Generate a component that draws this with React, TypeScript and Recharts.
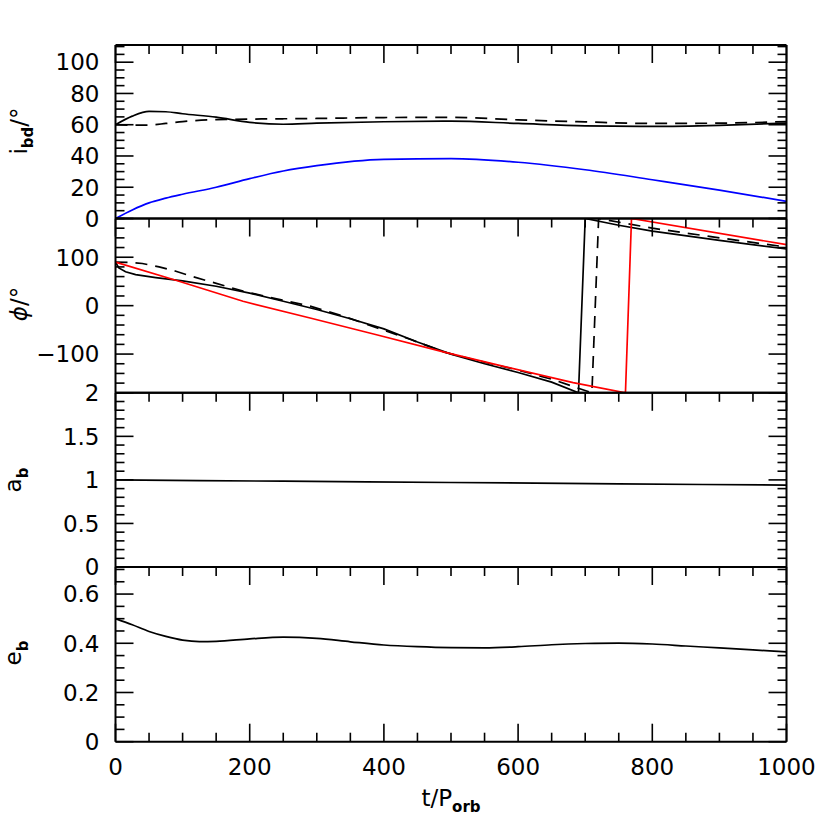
import React from 'react';
import { LineChart, Line, XAxis, YAxis } from 'recharts';

const FONT = '"DejaVu Sans", sans-serif';
const PLOT_LEFT = 115.5;
const PLOT_RIGHT = 786.5;
const SIZE = 830;

const range = (a: number, b: number, step: number) => {
  const n = Math.round((b - a) / step);
  return Array.from({ length: n + 1 }, (_, i) => +(a + i * step).toFixed(4));
};

// time axis (t / P_orb)
const timeMinor = range(0, 1000, 50);
const timeMajor = [0, 200, 400, 600, 800, 1000];

// panel 1: i_bd
const incT = [0, 25, 50, 75, 100, 150, 200, 250, 300, 400, 500, 600, 700, 800, 900, 1000];
const incSolid = [60, 65.5, 68.5, 68.3, 67, 64.8, 61.5, 60.3, 61, 61.9, 62.3, 60.8, 59.3, 58.9, 59.6, 61];
const incDashed = [60, 59.7, 59.8, 60.8, 62, 63.3, 63.6, 63.8, 64, 64.6, 64.7, 63.1, 61.8, 60.8, 61, 62];
const incBlue = [0, 5.5, 10, 13, 15.5, 20, 25.5, 30.4, 33.8, 37.8, 38.3, 36, 31.2, 24.8, 18.2, 11];
const incMinor = range(0, 110, 5);
const incMajor = [0, 20, 40, 60, 80, 100];

// panel 2: phi
const phiSolidT = [0, 5, 15, 30, 60, 100, 150, 200, 250, 300, 350, 400, 450, 500, 550, 600, 650, 690, 700, 750, 800, 900, 1000];
const phiSolid = [90, 78, 70, 64, 58, 51, 40, 26, 9, -8, -27, -48, -75, -100, -120, -138, -158, -180, 180, 166, 154, 135, 117];
const phiDashedT = [0, 20, 40, 65, 90, 115, 140, 190, 240, 290, 340, 390, 440, 490, 550, 600, 650, 710, 720, 800, 900, 1000];
const phiDashed = [90, 89.5, 87, 80, 71, 60, 50, 30, 14, -1, -22, -46, -70, -96, -117, -133, -152, -180, 180, 160, 140, 121];
const phiRedT = [0, 91, 190, 290, 389, 490, 583, 682, 760, 769, 1000];
const phiRed = [90, 52, 9, -25.5, -60, -96, -127, -159, -180, 180, 126];
const phiMinor = range(-180, 180, 20);
const phiMajor = [-100, 0, 100];

// panel 3: a_b
const aT = [0, 250, 500, 750, 1000];
const aVals = [1.0, 0.985, 0.97, 0.955, 0.94];
const aMinor = range(0, 2, 0.1);
const aMajor = [0, 0.5, 1, 1.5, 2];

// panel 4: e_b
const eT = [0, 25, 50, 75, 100, 125, 150, 200, 250, 300, 350, 400, 450, 500, 550, 600, 650, 700, 750, 800, 850, 900, 950, 1000];
const eVals = [0.5, 0.475, 0.448, 0.428, 0.413, 0.407, 0.408, 0.418, 0.425, 0.42, 0.406, 0.393, 0.386, 0.382, 0.381, 0.386, 0.394, 0.399, 0.401, 0.397, 0.389, 0.381, 0.373, 0.365];
const eMinor = range(0, 0.7, 0.05);
const eMajor = [0, 0.2, 0.4, 0.6];

const rows = (ts: number[], vs: number[]) => ts.map((t, i) => ({ t, v: vs[i] }));

const fmt = (v: number) => (v < 0 ? `\u2212${-v}` : `${v}`);
const isIn = (list: number[], v: number) => list.some((m) => Math.abs(m - v) < 1e-6);

const frame = { stroke: '#000', strokeWidth: 2 };

const xTick = (showTicks: boolean, labels: boolean, dir: number) => (props: any) => {
  const { x, payload } = props;
  const y = props.y + (dir > 0 ? 1 : -1) * 0;
  const major = isIn(timeMajor, payload.value);
  const len = major ? 18 : 9;
  return (
    <g>
      {showTicks && <line x1={x} x2={x} y1={y} y2={y + dir * len} stroke="#000" strokeWidth={1.6} />}
      {labels && major && (
        <text x={x} y={y + 25} dy="0.36em" textAnchor="middle" fontFamily={FONT} fontSize={23} fill="#000">
          {payload.value}
        </text>
      )}
    </g>
  );
};

const yTick = (majors: number[], labels: boolean, dir: number) => (props: any) => {
  const { x, y, payload } = props;
  const major = isIn(majors, payload.value);
  const len = major ? 18 : 9;
  return (
    <g>
      <line x1={x} x2={x + dir * len} y1={y} y2={y} stroke="#000" strokeWidth={1.6} />
      {labels && major && (
        <text x={x - 16} y={y} dy="0.36em" textAnchor="end" fontFamily={FONT} fontSize={23} fill="#000">
          {fmt(payload.value)}
        </text>
      )}
    </g>
  );
};

type Series = { data: { t: number; v: number }[]; color: string; dash?: string; curve: 'linear' | 'monotone' };

type PanelProps = {
  top: number;
  bottom: number;
  domain: [number, number];
  minor: number[];
  major: number[];
  last?: boolean;
  series: Series[];
};

// axes are given a 1px size (Recharts skips zero-size axes), margins compensate
const Panel = ({ top, bottom, domain, minor, major, last, series }: PanelProps) => (
  <div style={{ position: 'absolute', left: 0, top: 0 }}>
    <LineChart
      width={SIZE}
      height={SIZE}
      margin={{ top: top - 1, bottom: SIZE - bottom - 1, left: PLOT_LEFT - 1, right: SIZE - PLOT_RIGHT - 1 }}
    >
      <XAxis
        xAxisId="b"
        dataKey="t"
        type="number"
        domain={[0, 1000]}
        ticks={timeMinor}
        interval={0}
        height={1}
        tickSize={0}
        tickMargin={0}
        tickLine={false}
        axisLine={frame}
        tick={xTick(!!last, !!last, -1)}
        allowDataOverflow
      />
      <XAxis
        xAxisId="t"
        orientation="top"
        dataKey="t"
        type="number"
        domain={[0, 1000]}
        ticks={timeMinor}
        interval={0}
        height={1}
        tickSize={0}
        tickMargin={0}
        tickLine={false}
        axisLine={frame}
        tick={xTick(true, false, 1)}
        allowDataOverflow
      />
      <YAxis
        yAxisId="l"
        type="number"
        domain={domain}
        ticks={minor}
        interval={0}
        width={1}
        tickSize={0}
        tickMargin={0}
        tickLine={false}
        axisLine={frame}
        tick={yTick(major, true, 1)}
        allowDataOverflow
      />
      <YAxis
        yAxisId="r"
        orientation="right"
        type="number"
        domain={domain}
        ticks={minor}
        interval={0}
        width={1}
        tickSize={0}
        tickMargin={0}
        tickLine={false}
        axisLine={frame}
        tick={yTick(major, false, -1)}
        allowDataOverflow
      />
      {series.map((s, i) => (
        <Line
          key={i}
          xAxisId="b"
          yAxisId="l"
          data={s.data}
          dataKey="v"
          type={s.curve}
          stroke={s.color}
          strokeWidth={1.7}
          strokeDasharray={s.dash}
          dot={false}
          activeDot={false}
          isAnimationActive={false}
        />
      ))}
    </LineChart>
  </div>
);

const BOUNDS = [45, 218.5, 392.8, 567, 741.7];

export default function App() {
  return (
    <div style={{ position: 'absolute', left: 0, top: 0, width: SIZE, height: SIZE, background: '#fff' }}>
      <Panel
        top={BOUNDS[0]}
        bottom={BOUNDS[1]}
        domain={[0, 111]}
        minor={incMinor}
        major={incMajor}
        series={[
          { data: rows(incT, incSolid), color: '#000', curve: 'monotone' },
          { data: rows(incT, incDashed), color: '#000', dash: '12 8', curve: 'monotone' },
          { data: rows(incT, incBlue), color: '#0000ff', curve: 'monotone' },
        ]}
      />
      <Panel
        top={BOUNDS[1]}
        bottom={BOUNDS[2]}
        domain={[-180, 180]}
        minor={phiMinor}
        major={phiMajor}
        series={[
          { data: rows(phiSolidT, phiSolid), color: '#000', curve: 'linear' },
          { data: rows(phiDashedT, phiDashed), color: '#000', dash: '12 8', curve: 'linear' },
          { data: rows(phiRedT, phiRed), color: '#ff0000', curve: 'linear' },
        ]}
      />
      <Panel
        top={BOUNDS[2]}
        bottom={BOUNDS[3]}
        domain={[0, 2]}
        minor={aMinor}
        major={aMajor}
        series={[{ data: rows(aT, aVals), color: '#000', curve: 'monotone' }]}
      />
      <Panel
        top={BOUNDS[3]}
        bottom={BOUNDS[4]}
        domain={[0, 0.71]}
        minor={eMinor}
        major={eMajor}
        last
        series={[{ data: rows(eT, eVals), color: '#000', curve: 'monotone' }]}
      />
      <svg width={SIZE} height={SIZE} style={{ position: 'absolute', left: 0, top: 0 }} fontFamily={FONT} fill="#000">
        <text transform="translate(27,131) rotate(-90)" textAnchor="middle" fontSize={23}>
          i<tspan fontSize={15} fontWeight="bold" dy={6}>bd</tspan>
          <tspan dy={-6}>/°</tspan>
        </text>
        <text transform="translate(27,304) rotate(-90)" textAnchor="middle" fontSize={23}>
          <tspan fontStyle="italic">ϕ</tspan>/°
        </text>
        <text transform="translate(21,480) rotate(-90)" textAnchor="middle" fontSize={23}>
          a<tspan fontSize={15} fontWeight="bold" dy={7}>b</tspan>
        </text>
        <text transform="translate(21,653) rotate(-90)" textAnchor="middle" fontSize={23}>
          e<tspan fontSize={15} fontWeight="bold" dy={7}>b</tspan>
        </text>
        <text x={451} y={806} textAnchor="middle" fontSize={23}>
          t/P<tspan fontSize={15} fontWeight="bold" dy={6}>orb</tspan>
        </text>
      </svg>
    </div>
  );
}
